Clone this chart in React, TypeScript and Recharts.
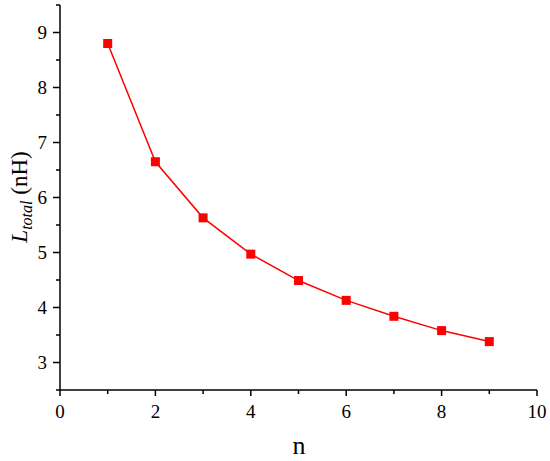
import React from "react";
import { LineChart, Line, XAxis, YAxis } from "recharts";

const nValues = [1, 2, 3, 4, 5, 6, 7, 8, 9];
const lTotal = [8.8, 6.65, 5.63, 4.97, 4.49, 4.13, 3.84, 3.58, 3.38];
const xTicks = [0, 1, 2, 3, 4, 5, 6, 7, 8, 9, 10];
const xLabelTicks = [0, 2, 4, 6, 8, 10];
const yTicks = [2.5, 3, 3.5, 4, 4.5, 5, 5.5, 6, 6.5, 7, 7.5, 8, 8.5, 9, 9.5];
const yLabelTicks = [3, 4, 5, 6, 7, 8, 9];

const data = nValues.map((n, i) => ({ n, L: lTotal[i] }));

const FONT = "Liberation Serif, Times New Roman, serif";

const XTick = (props: any) => {
  const { x, y, payload } = props;
  const major = xLabelTicks.includes(payload.value);
  return (
    <g>
      <line x1={x} x2={x} y1={y} y2={y + (major ? 6 : 4)} stroke="#000" strokeWidth={1.5} />
      {major && (
        <text x={x} y={y + 28} textAnchor="middle" style={{ fontFamily: FONT, fontSize: 19 }} fill="#000">
          {payload.value}
        </text>
      )}
    </g>
  );
};

const YTick = (props: any) => {
  const { x, y, payload } = props;
  const major = yLabelTicks.includes(payload.value);
  return (
    <g>
      <line x1={x} x2={x - (major ? 7 : 4)} y1={y} y2={y} stroke="#000" strokeWidth={1.5} />
      {major && (
        <text x={x - 13} y={y + 6.5} textAnchor="end" style={{ fontFamily: FONT, fontSize: 19 }} fill="#000">
          {payload.value}
        </text>
      )}
    </g>
  );
};

const SquareDot = (props: any) => {
  const { cx, cy } = props;
  if (cx == null || cy == null) return null;
  return <rect x={cx - 4.5} y={cy - 4.5} width={9} height={9} fill="#ff0000" />;
};

const YLabel = () => (
  <text
    x={0}
    y={0}
    transform="translate(27,197) rotate(-90)"
    textAnchor="middle"
    style={{ fontFamily: FONT, fontSize: 23 }}
    fill="#000"
  >
    <tspan fontStyle="italic">L</tspan>
    <tspan fontStyle="italic" style={{ fontSize: 16 }} dy={5}>total</tspan>
    <tspan dy={-5}> (nH)</tspan>
  </text>
);

const XLabel = () => (
  <text x={299} y={454} textAnchor="middle" style={{ fontFamily: FONT, fontSize: 26 }} fill="#000">
    n
  </text>
);

export default function App() {
  return (
    <div style={{ position: "absolute", left: 0, top: 0, width: 550, height: 461, background: "#fff" }}>
      <LineChart width={550} height={461} data={data} margin={{ top: 5, right: 13, left: 0, bottom: 0 }}>
        <XAxis
          dataKey="n"
          type="number"
          domain={[0, 10]}
          ticks={xTicks}
          interval={0}
          height={71}
          tickSize={0}
          tickMargin={0}
          tickLine={false}
          tick={<XTick />}
          axisLine={{ stroke: "#000", strokeWidth: 1.5 }}
          label={{ content: () => <XLabel /> }}
        />
        <YAxis
          type="number"
          domain={[2.5, 9.5]}
          ticks={yTicks}
          interval={0}
          width={60}
          tickSize={0}
          tickMargin={0}
          tickLine={false}
          tick={<YTick />}
          axisLine={{ stroke: "#000", strokeWidth: 1.5 }}
          label={{ content: () => <YLabel /> }}
        />
        <Line
          dataKey="L"
          stroke="#ff0000"
          strokeWidth={1.5}
          dot={<SquareDot />}
          activeDot={false}
          isAnimationActive={false}
        />
      </LineChart>
    </div>
  );
}
